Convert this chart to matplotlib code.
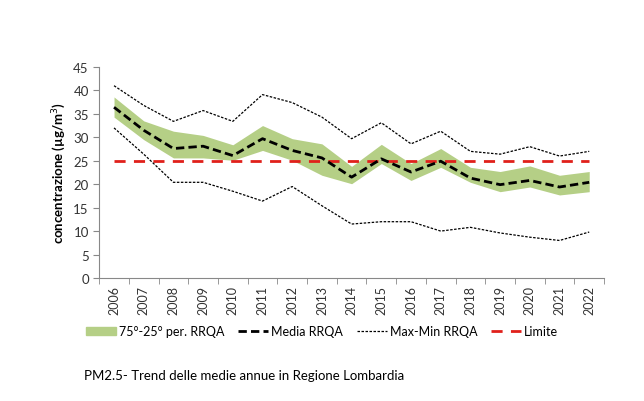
import matplotlib
matplotlib.use("Agg")
import matplotlib.pyplot as plt
from matplotlib.patches import Patch
from matplotlib.lines import Line2D

plt.rcParams['font.family'] = ['Lato', 'DejaVu Sans']

years = list(range(2006, 2023))
media = [36.4, 31.5, 27.6, 28.1, 26.1, 29.7, 27.2, 25.6, 21.5, 25.4, 22.6, 24.9, 21.3, 19.9, 20.8, 19.4, 20.4]
p75 = [38.6, 33.5, 31.3, 30.4, 28.4, 32.5, 29.7, 28.6, 23.8, 28.5, 24.4, 27.6, 23.6, 22.7, 23.9, 21.9, 22.7]
p25 = [34.3, 29.5, 25.6, 25.6, 25.1, 27.2, 25.1, 21.9, 20.1, 24.4, 20.8, 23.6, 20.4, 18.4, 19.4, 17.7, 18.4]
vmax = [41.0, 36.8, 33.4, 35.7, 33.4, 39.1, 37.4, 34.3, 29.7, 33.1, 28.6, 31.3, 27.0, 26.4, 28.0, 26.0, 27.0]
vmin = [32.0, 26.4, 20.4, 20.4, 18.5, 16.4, 19.5, 15.4, 11.5, 12.0, 12.0, 10.0, 10.8, 9.6, 8.7, 8.0, 9.8]
limite = 25

fig = plt.figure(figsize=(6.44, 4.02), dpi=100)
ax = fig.add_axes([0.154, 0.306, 0.784, 0.525])

green = '#b5cf86'
ax.fill_between(years, p25, p75, color=green, lw=0)
ax.axhline(limite, xmin=0.03, xmax=0.97, color='#e0201b', lw=2, dashes=(4, 3))
ax.plot(years, vmax, color='black', lw=0.9, dashes=(2, 1.2))
ax.plot(years, vmin, color='black', lw=0.9, dashes=(2, 1.2))
ax.plot(years, media, color='black', lw=2, dashes=(3, 1.5))

ax.set_xlim(2005.5, 2022.5)
ax.set_ylim(0, 45)
ax.set_yticks(range(0, 46, 5))
ax.set_xticks(years)
ax.set_xticklabels([str(y) for y in years], rotation=90, fontsize=9)
ax.set_xticks([y + 0.5 for y in [2005] + years], minor=True)
ax.tick_params(axis='x', which='major', length=0, pad=5)
ax.tick_params(axis='x', which='minor', length=4, color='#888888', direction='out')
ax.tick_params(axis='y', length=4, color='#888888', labelsize=9.5, colors='#333333')
ax.tick_params(axis='x', colors='#333333')
for s in ['top', 'right']:
    ax.spines[s].set_visible(False)
for s in ['left', 'bottom']:
    ax.spines[s].set_color('#888888')
ax.set_ylabel('concentrazione (µg/m$^3$)', fontsize=9.5, fontweight='bold')

handles = [Patch(color=green, label="75°-25° per. RRQA"),
           Line2D([], [], color='black', lw=2, dashes=(3, 1.5), label='Media RRQA'),
           Line2D([], [], color='black', lw=0.9, dashes=(2, 1.2), label='Max-Min RRQA'),
           Line2D([], [], color='#e0201b', lw=2, dashes=(4, 3), label='Limite')]
fig.legend(handles=handles, loc='center', bbox_to_anchor=(0.50, 0.174), ncol=4,
           frameon=False, fontsize=9, handlelength=2.4, handleheight=0.6, columnspacing=1.1,
           handletextpad=0.25)

fig.text(0.131, 0.055, 'PM2.5- Trend delle medie annue in Regione Lombardia', fontsize=9.5)

fig.savefig('out.png', dpi=100)
